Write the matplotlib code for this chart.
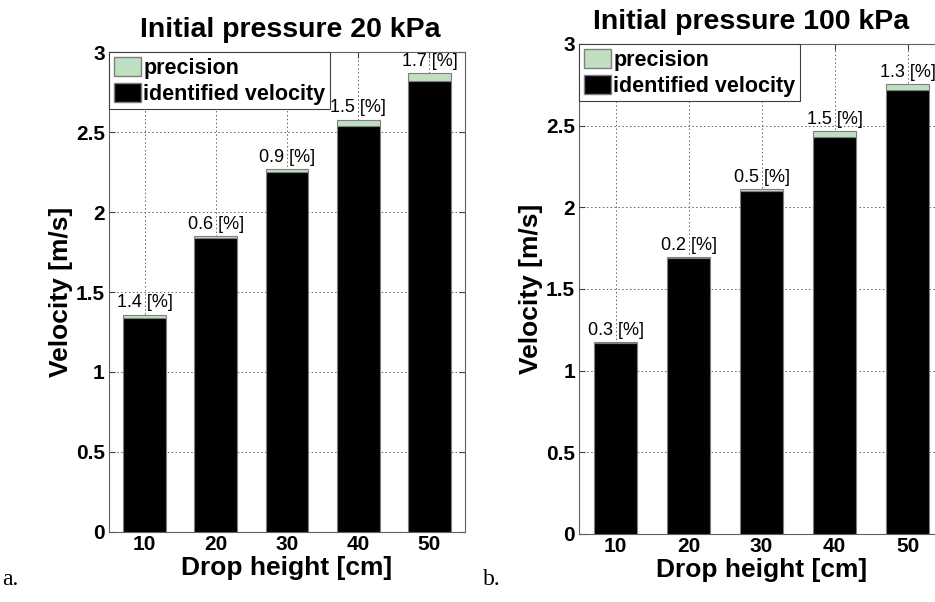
import numpy as np
import matplotlib
matplotlib.use("Agg")
import matplotlib.pyplot as plt
from matplotlib.patches import Patch

plt.rcParams['font.family'] = ['Liberation Sans', 'DejaVu Sans']

# drop heights [cm]
heights = [10, 20, 30, 40, 50]

# initial pressure 20 kPa
vel_20 = [1.34, 1.84, 2.25, 2.54, 2.82]
prec_20 = [0.019, 0.011, 0.020, 0.038, 0.048]
pct_20 = ['1.4', '0.6', '0.9', '1.5', '1.7']

# initial pressure 100 kPa
vel_100 = [1.17, 1.69, 2.10, 2.43, 2.72]
prec_100 = [0.004, 0.004, 0.011, 0.036, 0.035]
pct_100 = ['0.3', '0.2', '0.5', '1.5', '1.3']

yticks = [0, 0.5, 1, 1.5, 2, 2.5, 3]
ytick_labels = ['0', '0.5', '1', '1.5', '2', '2.5', '3']

GREEN = '#bfdfc0'
EDGE = '#7f7f7f'


def draw_panel(ax, vel, prec, pct, title, title_x):
    x = np.arange(1, len(heights) + 1)
    ax.bar(x, vel, width=0.6, color='black', edgecolor=EDGE, linewidth=0.8, zorder=3)
    ax.bar(x, prec, width=0.6, bottom=vel, color=GREEN, edgecolor=EDGE, linewidth=0.8, zorder=3)
    for xi, v, p, s in zip(x, vel, prec, pct):
        ax.text(xi, v + p + 0.02, s + ' [%]', ha='center', va='bottom', fontsize=13, zorder=4)
    ax.set_xlim(0.5, 5.5)
    ax.set_ylim(0, 3)
    ax.set_xticks(x)
    ax.set_xticklabels([str(h) for h in heights], fontsize=15, fontweight='bold')
    ax.set_yticks(yticks)
    ax.set_yticklabels(ytick_labels, fontsize=15, fontweight='bold')
    ax.tick_params(direction='in', length=4, top=True, right=True, color='#404040')
    ax.tick_params(axis='y', pad=3)
    ax.tick_params(axis='x', pad=2.5)
    ax.grid(True, linestyle=(0, (1.5, 2.5)), color='#606060', linewidth=0.7, zorder=0)
    ax.set_axisbelow(True)
    for sp in ax.spines.values():
        sp.set_color('#606060')
        sp.set_linewidth(0.8)
    ax.set_xlabel('Drop height [cm]', fontsize=19, fontweight='bold', labelpad=1)
    ax.set_ylabel('Velocity [m/s]', fontsize=19, fontweight='bold', labelpad=2)
    ax.set_title(title, fontsize=20.5, fontweight='bold', pad=11, x=title_x)
    handles = [Patch(facecolor=GREEN, edgecolor=EDGE, label='precision'),
               Patch(facecolor='black', edgecolor=EDGE, label='identified velocity')]
    leg = ax.legend(handles=handles, loc='upper left', borderaxespad=0, fancybox=False,
                    framealpha=1, edgecolor='#404040', handlelength=1.25, handleheight=1.0,
                    handletextpad=0.12, borderpad=0.22, labelspacing=0.18,
                    prop={'size': 15.5, 'weight': 'bold'})
    leg.get_frame().set_linewidth(0.8)
    leg.set_zorder(5)


fig = plt.figure(figsize=(9.35, 6.02), dpi=100)
ax1 = fig.add_axes([0.1166, 0.1163, 0.3807, 0.7973])
ax2 = fig.add_axes([0.6193, 0.1130, 0.3904, 0.8140])

draw_panel(ax1, vel_20, prec_20, pct_20, 'Initial pressure 20 kPa', 0.51)
draw_panel(ax2, vel_100, prec_100, pct_100, 'Initial pressure 100 kPa', 0.47)

fig.text(0.002, 0.028, 'a.', fontsize=17, family=['Liberation Serif', 'DejaVu Serif'])
fig.text(0.517, 0.028, 'b.', fontsize=17, family=['Liberation Serif', 'DejaVu Serif'])

fig.savefig('out.png', dpi=100)
